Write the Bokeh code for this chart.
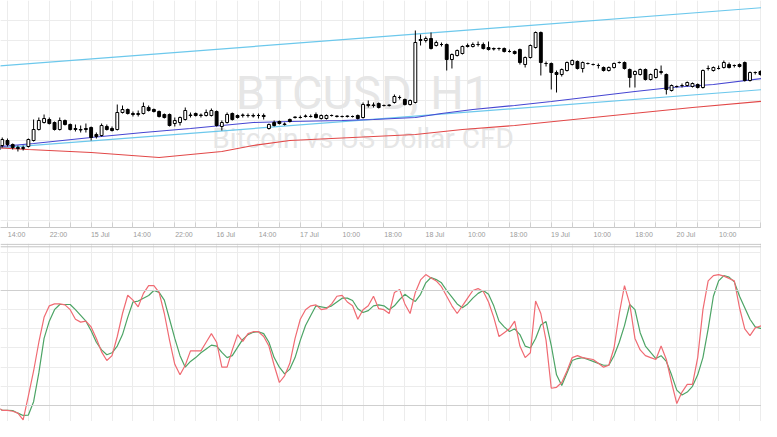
from bokeh.plotting import figure
from bokeh.models import Range1d, FixedTicker, Span
from bokeh.layouts import column
from bokeh.embed import file_html
from bokeh.resources import INLINE
from bokeh.core.properties import value

# ---------------- data ----------------
bars = list(range(149))
open_ = [2271, 2275, 2280, 2276, 2273, 2272, 2274, 2280, 2291, 2298, 2301, 2298, 2291, 2300, 2296, 2292, 2291, 2292, 2293, 2286,
         2285, 2294, 2292, 2291, 2308, 2311, 2307, 2306, 2307, 2313, 2311, 2309, 2306, 2306, 2297, 2298, 2301, 2305, 2307, 2305,
         2305, 2305, 2309, 2294, 2298, 2307, 2305, 2305, 2305, 2305, 2305, 2305, 2292, 2298, 2299, 2296, 2301, 2303, 2303, 2304,
         2304, 2306, 2302, 2302, 2305, 2304, 2304, 2304, 2304, 2305, 2303, 2316, 2315, 2317, 2315, 2315, 2318, 2323, 2321, 2316,
         2318, 2381, 2380, 2382, 2375, 2376, 2376, 2361, 2365, 2367, 2375, 2374, 2376, 2376, 2373, 2372, 2372, 2372, 2369, 2369,
         2371, 2356, 2363, 2373, 2388, 2357, 2357, 2348, 2346, 2350, 2356, 2359, 2352, 2357, 2356, 2355, 2353, 2350, 2353, 2358,
         2358, 2351, 2346, 2346, 2351, 2341, 2343, 2348, 2346, 2330, 2334, 2335, 2335, 2334, 2336, 2333, 2352, 2350, 2352, 2353,
         2356, 2355, 2356, 2358, 2340, 2348, 2349, 2346, 2353]
close = [2275, 2281, 2276, 2273, 2272, 2273, 2281, 2291, 2300, 2302, 2297, 2291, 2300, 2296, 2291, 2291, 2290.5, 2291, 2283, 2284,
         2295, 2291, 2290, 2308, 2311, 2307, 2306, 2307, 2314, 2310, 2309, 2304, 2303, 2295, 2300, 2303, 2310, 2305.5, 2305, 2305.5,
         2308, 2310, 2295, 2298, 2306, 2301, 2303, 2305.5, 2305, 2304.5, 2305, 2304, 2296, 2295, 2297, 2296.5, 2299, 2303.5, 2303, 2304.5,
         2304, 2303, 2305, 2305, 2305, 2304.5, 2304, 2304.5, 2304, 2302, 2316, 2315, 2315.5, 2313, 2315, 2315.5, 2324, 2323, 2316, 2320,
         2378, 2380, 2382, 2372, 2378, 2376, 2361, 2366, 2370, 2374, 2374, 2376, 2376, 2372, 2371, 2371.5, 2372, 2369, 2369, 2367,
         2358, 2363, 2375, 2388, 2358, 2357, 2348, 2346, 2351, 2358, 2360, 2352, 2358, 2357, 2356, 2355, 2350, 2353, 2357, 2358,
         2352, 2343, 2349, 2351, 2341, 2346, 2351, 2349, 2331, 2335, 2334, 2335, 2338, 2337, 2333, 2350, 2352, 2353, 2352, 2358,
         2353, 2355, 2354, 2340, 2348, 2348, 2346, 2351, 2353]
high = [2278, 2283, 2282, 2277, 2275, 2275, 2282, 2301, 2303, 2306, 2303, 2299, 2303, 2301, 2297, 2296, 2295, 2297, 2294, 2288,
        2297, 2296, 2294, 2316, 2315, 2312, 2309, 2310, 2318, 2315, 2312, 2310, 2307, 2307, 2303, 2304, 2313, 2308, 2308, 2307,
        2311, 2312, 2310, 2300, 2308, 2308, 2306, 2307, 2307, 2307, 2307, 2307, 2297, 2300, 2300, 2298, 2302, 2304, 2305, 2306,
        2306, 2308, 2306, 2306, 2306, 2305, 2305, 2305, 2305, 2306, 2318, 2320, 2318, 2318, 2316, 2316, 2326, 2325, 2322, 2321,
        2390, 2386, 2384, 2388, 2380, 2378, 2377, 2367, 2371, 2375, 2377, 2378, 2379, 2378, 2379, 2373, 2373, 2373, 2371, 2370,
        2372, 2364, 2376, 2389, 2389, 2359, 2358, 2350, 2352, 2359, 2361, 2360, 2359, 2358, 2357, 2357, 2354, 2354, 2358, 2359,
        2359, 2352, 2350, 2352, 2352, 2347, 2352, 2355, 2347, 2336, 2335, 2337, 2339, 2338, 2337, 2351, 2355, 2354, 2355, 2360,
        2358, 2356, 2357, 2359, 2349, 2349, 2350, 2352, 2358]
low = [2270, 2273, 2274, 2271, 2269, 2270, 2273, 2279, 2290, 2297, 2296, 2290, 2290, 2295, 2290, 2289, 2288, 2288, 2280, 2282,
       2284, 2290, 2289, 2290, 2307, 2306, 2304, 2304, 2306, 2309, 2308, 2303, 2302, 2294, 2294, 2295, 2300, 2303, 2304, 2303,
       2304, 2304, 2294, 2290, 2297, 2300, 2302, 2303, 2303, 2303, 2302, 2301, 2291, 2294, 2296, 2295, 2298, 2302, 2302, 2303,
       2303, 2302, 2301, 2301, 2304, 2303, 2303, 2303, 2303, 2301, 2302, 2313, 2313, 2312, 2314, 2314, 2317, 2321, 2315, 2315,
       2317, 2375, 2378, 2371, 2374, 2374, 2350, 2352, 2364, 2366, 2373, 2373, 2374, 2371, 2370, 2370, 2370, 2368, 2368, 2366,
       2356, 2353, 2362, 2372, 2345, 2354, 2331, 2328, 2344, 2349, 2355, 2351, 2348, 2356, 2355, 2352, 2349, 2349, 2352, 2357,
       2351, 2333, 2333, 2345, 2340, 2340, 2342, 2346, 2326, 2329, 2333, 2333, 2334, 2333, 2332, 2332, 2350, 2349, 2351, 2352,
       2352, 2353, 2353, 2339, 2339, 2346, 2345, 2345, 2348]

# moving averages (bar, price)
ma_blue_bars = [-1, 7, 18, 28, 37, 49, 56, 66, 72, 80, 85, 91, 99, 106, 114, 122, 129, 137, 148]
ma_blue = [2273, 2277, 2283, 2288, 2292, 2298, 2299, 2300, 2301, 2303, 2307, 2311, 2315, 2319, 2324, 2329, 2333, 2336, 2343]
ma_red_bars = [-1, 6, 18, 31, 43, 49, 56, 68, 80, 89, 99, 114, 133, 148]
ma_red = [2273, 2271, 2268, 2263, 2269, 2275, 2280, 2283, 2286, 2291, 2295, 2303, 2313, 2320]

# channel trend lines
chan_bars = [-1, 148]
chan_upper = [2354, 2413.5]
chan_lower = [2272, 2331.5]

# stochastic oscillator
stoch_bars = list(range(148))
stoch_k = [19.5, 17.5, 17.5, 17, 16, 12.5, 25, 38, 53, 66, 72, 73, 73, 72.5, 70, 65, 63.5, 64, 61, 55,
           48, 43.5, 46, 56, 68, 77.5, 75, 71.5, 78.5, 82.5, 82.5, 79, 68, 54, 41.5, 36, 41, 48.5, 48.5, 48.5,
           53, 57.5, 53, 40, 40, 49, 57, 53.5, 57.5, 58.5, 58.5, 56, 51, 41, 32, 35.5, 42, 55, 65, 70,
           72, 72.5, 70, 70.5, 73, 77, 77.5, 74, 72, 65, 70, 72, 77, 70.5, 70, 68, 79, 80.5, 73, 68,
           79, 85.5, 88.3, 86.5, 85, 82, 77, 72, 68, 72, 76, 80, 81, 79.5, 74, 66, 56, 58, 60, 64,
           51, 45, 47.5, 74.5, 68, 54, 29, 29.5, 32, 38, 45, 46, 45, 44.5, 44, 42, 40, 41, 50, 68,
           82.5, 73, 55, 49, 46, 45, 44, 51, 44, 32, 21, 27, 31, 31, 45, 70, 85, 87.8, 88.3, 87.5,
           86.3, 85, 71, 60, 56.5, 60.5, 61.5, 61]
stoch_d = [19, 17.5, 17.5, 17.4, 16, 14.8, 15, 22, 37, 55, 64, 70, 72.7, 72.7, 72.7, 70, 67, 64, 59, 53,
           49, 46.5, 47.5, 51, 57, 66, 74, 74.5, 76, 77.4, 80, 79, 75, 65, 55, 46, 40, 43, 45, 47.5,
           49.5, 51.5, 51, 47.7, 45, 46, 50.3, 54.5, 57, 58.2, 58.5, 57.5, 53, 45, 40, 36.5, 39, 45, 54, 61.7,
           67, 72, 71.5, 71, 72, 74, 76, 76, 74.8, 70.5, 68.5, 69.5, 72, 72.5, 72, 70, 72, 75.3, 78, 76,
           74.3, 78, 84, 86.8, 85.7, 84, 80, 76.5, 73, 71, 73, 76, 78.5, 80, 78, 72, 64, 61, 58.6, 60,
           57, 51, 50, 55, 62, 63.8, 51.3, 36, 30.4, 37, 43.5, 44.5, 45, 44, 43, 42, 41, 41, 46, 53,
           61.7, 72.7, 70, 58, 51, 47.7, 44.5, 46, 43, 36, 28, 25.5, 27, 30, 36, 45, 60, 77, 85, 87.8,
           87, 84.5, 77, 71, 65, 61, 60.2, 60.5]

tick_bars = [2, 10, 18, 26, 34, 42, 50, 58, 66, 74, 82, 90, 98, 106, 114, 122, 130, 138, 146]
tick_labels = ["14:00", "22:00", "15 Jul", "14:00", "22:00", "16 Jul", "14:00", "17 Jul", "10:00", "18:00",
               "18 Jul", "10:00", "18:00", "19 Jul", "10:00", "18:00", "20 Jul", "10:00", "18:00"]
minor_bars = [b + 4 for b in tick_bars]

price_grid = list(range(2200, 2421, 20))
stoch_grid = list(range(0, 101, 10))

# ---------------- styling ----------------
GRID = "#ececec"
LABEL_SHIFT = 1.75          # labels start just right of their grid line
x_range = Range1d(0.669, 146.2)

p = figure(frame_width=761, frame_height=227, x_range=x_range, y_range=Range1d(2193, 2420),
           y_axis_location=None, x_axis_location="below",
           min_border_left=0, min_border_right=0, min_border_top=0, min_border_bottom=16,
           output_backend="svg", toolbar_location=None, outline_line_color=None,
           background_fill_color="white", border_fill_color="white")

label_ticks = [b + LABEL_SHIFT for b in tick_bars]
p.xaxis.ticker = FixedTicker(ticks=label_ticks, minor_ticks=sorted(tick_bars + minor_bars))
p.xaxis.major_label_overrides = {t: s for t, s in zip(label_ticks, tick_labels)}
p.xaxis.major_label_text_font = "Liberation Sans"
p.xaxis.major_label_text_font_size = "7px"
p.xaxis.major_label_text_color = "#9a9a9a"
p.xaxis.major_label_standoff = 3
p.xaxis.major_tick_in = 0
p.xaxis.major_tick_out = 0
p.xaxis.major_tick_line_color = None
p.xaxis.minor_tick_in = 5
p.xaxis.minor_tick_out = 0
p.xaxis.minor_tick_line_color = "#d0d0d0"
p.xaxis.axis_line_color = "#c8c8c8"

p.xgrid.ticker = FixedTicker(ticks=tick_bars, minor_ticks=minor_bars)
p.xgrid.grid_line_color = GRID
p.xgrid.minor_grid_line_color = GRID
p.ygrid.ticker = FixedTicker(ticks=price_grid)
p.ygrid.grid_line_color = GRID

# watermark
p.text(x=[70], y=[2328.5], text=["BTCUSD, H1"], text_font=value("Roboto"), text_font_size="47px",
       text_color="#e6e6e6", text_align="center", text_baseline="alphabetic")
p.text(x=[70], y=[2282.5], text=["Bitcoin vs US Dollar CFD"], text_font=value("Roboto"), text_font_size="28px",
       text_color="#e6e6e6", text_align="center", text_baseline="alphabetic")

# channel + MAs
p.line(chan_bars, chan_upper, line_color="#6cc8ec", line_width=1.2)
p.line(chan_bars, chan_lower, line_color="#6cc8ec", line_width=1.2)
p.line(ma_red_bars, ma_red, line_color="#e24848", line_width=1.2)
p.line(ma_blue_bars, ma_blue, line_color="#4646d2", line_width=1.2)

# candles
p.segment(x0=bars, y0=high, x1=bars, y1=low, line_color="black", line_width=1)
up_x = [b for b, o, c in zip(bars, open_, close) if c >= o]
up_t = [c for o, c in zip(open_, close) if c >= o]
up_b = [o for o, c in zip(open_, close) if c >= o]
dn_x = [b for b, o, c in zip(bars, open_, close) if c < o]
dn_t = [o for o, c in zip(open_, close) if c < o]
dn_b = [c for o, c in zip(open_, close) if c < o]
p.vbar(x=up_x, top=up_t, bottom=up_b, width=0.55, fill_color="white", line_color="black", line_width=1)
p.vbar(x=dn_x, top=dn_t, bottom=dn_b, width=0.55, fill_color="black", line_color="black", line_width=1)

# ---------------- stochastic pane ----------------
q = figure(frame_width=761, frame_height=178, x_range=x_range, y_range=Range1d(11.65, 104.52),
           x_axis_location=None, y_axis_location=None,
           min_border_left=0, min_border_right=0, min_border_top=0, min_border_bottom=0,
           output_backend="svg", toolbar_location=None, outline_line_color=None,
           background_fill_color="white", border_fill_color="white")
q.xgrid.ticker = FixedTicker(ticks=tick_bars, minor_ticks=minor_bars)
q.xgrid.grid_line_color = GRID
q.xgrid.minor_grid_line_color = GRID
q.ygrid.ticker = FixedTicker(ticks=stoch_grid)
q.ygrid.grid_line_color = GRID
for lvl in (20, 80):
    q.add_layout(Span(location=lvl, dimension="width", line_color="#cfcfcf", line_width=1.2))
q.add_layout(Span(location=104.1, dimension="width", line_color="#c4c4c4", line_width=1))
q.add_layout(Span(location=102.8, dimension="width", line_color="#c4c4c4", line_width=1))

q.line(stoch_bars, stoch_d, line_color="#4ca465", line_width=1.2)
q.line(stoch_bars, stoch_k, line_color="#f06b73", line_width=1.2)

layout = column(p, q, spacing=0)
open("out.html", "w").write(file_html(layout, INLINE))
